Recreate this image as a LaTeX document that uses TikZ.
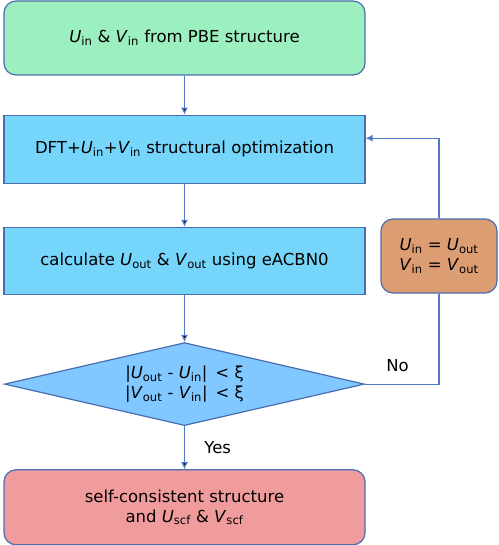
\documentclass[tikz,border=0pt]{standalone}
\usepackage{fontspec}
\setmainfont{DejaVu Sans}
\usetikzlibrary{shapes.geometric}
\usetikzlibrary{positioning}
\usetikzlibrary{arrows.meta}
\definecolor{startfill}{HTML}{9CF0C0}
\definecolor{stepfill}{HTML}{75D5FA}
\definecolor{testfill}{HTML}{80C8FF}
\definecolor{updatefill}{HTML}{DD9D73}
\definecolor{endfill}{HTML}{F09C9C}
\definecolor{edgeblue}{HTML}{4A6DB0}
\definecolor{lineblue}{HTML}{4F78C8}
\tikzset{
	every node/.style={font=\fontsize{16.5}{20}\selectfont, align=center, text=black},
	stepbox/.style={draw=edgeblue, line width=1.2pt, fill=stepfill, minimum width=361pt, inner sep=0pt},
	startbox/.style={stepbox, fill=startfill, rounded corners=12pt, minimum height=74pt},
	endbox/.style={stepbox, fill=endfill, rounded corners=12pt, minimum height=75pt},
	testbox/.style={draw=edgeblue, line width=1.2pt, fill=testfill, shape=diamond, aspect=4.3, minimum width=360pt, minimum height=83pt, inner sep=0pt},
	updatebox/.style={draw=edgeblue, line width=1.2pt, fill=updatefill, rounded corners=12pt, minimum width=116pt, minimum height=74pt, inner sep=0pt},
	flow/.style={draw=lineblue, line width=1.2pt, >={Latex[length=7pt, width=7pt]}}
}
\newcommand{\vsub}[2]{\textit{#1}\textsubscript{#2}}

\begin{document}
\begin{tikzpicture}[x=1pt, y=1pt]
		\useasboundingbox (0,0) rectangle (498,-545);
		\node[startbox] (A) at (184.5,-38) {\vsub{U}{in} \& \vsub{V}{in} from PBE structure};
		\node[stepbox, minimum height=68pt, below=39pt of A] (B) {DFT+\vsub{U}{in}+\vsub{V}{in} structural optimization};
		\node[stepbox, minimum height=67pt, below=43pt of B] (C) {calculate \vsub{U}{out} \& \vsub{V}{out} using eACBN0};
		\node[testbox, below=47pt of C] (D) {|\vsub{U}{out} - \vsub{U}{in}| \,< ξ\\|\vsub{V}{out} - \vsub{V}{in}| \,< ξ};
		\node[endbox, below=43pt of D] (E) {self-consistent structure\\and \vsub{U}{scf} \& \vsub{V}{scf}};
		\node[updatebox] (F) at (439,-256) {\vsub{U}{in} = \vsub{U}{out}\\\vsub{V}{in} = \vsub{V}{out}};
		\path [flow, ->] (A) edge (B);
		\path [flow, ->] (B) edge (C);
		\path [flow, ->] (C) edge (D);
		\path [flow, ->] (D) edge node[right=16pt] {Yes} (E);
		\draw [flow] (D.east) -| node[pos=0.22, above=8pt] {No} (F.south);
		\draw [flow, ->] (F.north) |- ([yshift=11pt]B.east);
	\end{tikzpicture}
\end{document}
